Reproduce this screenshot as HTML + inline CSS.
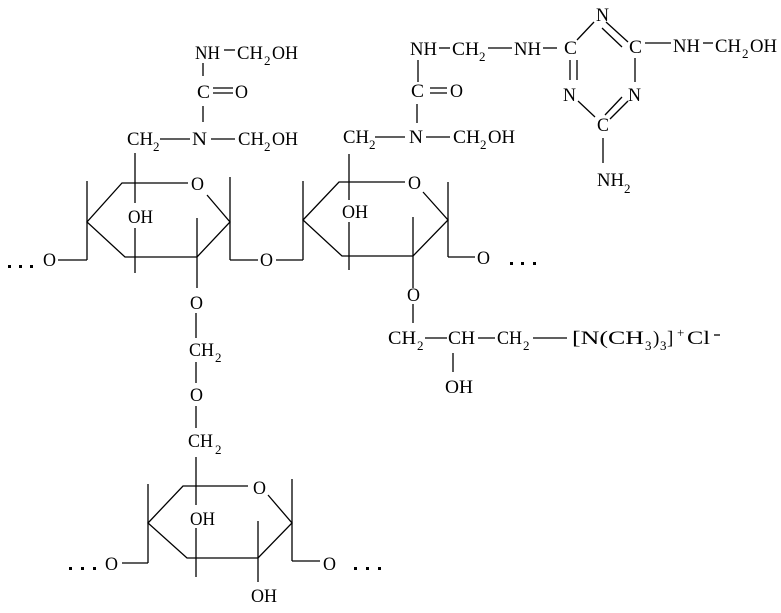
<!DOCTYPE html>
<html><head><meta charset="utf-8"><style>
html,body{margin:0;padding:0;background:#fff;width:781px;height:613px;overflow:hidden}
svg{display:block}
text{font-family:"Liberation Serif",serif;font-size:19px;fill:#000}
text.s{font-size:13px}
line,polyline{stroke:#000;stroke-width:1.3;fill:none}
rect{fill:#000}
</style></head><body>
<svg width="781" height="613" viewBox="0 0 781 613" xmlns="http://www.w3.org/2000/svg">
<!-- Urea 1 -->
<text x="195" y="59" textLength="25" lengthAdjust="spacingAndGlyphs">NH</text>
<line x1="224" y1="50" x2="235" y2="50"/>
<text x="237" y="59" textLength="26" lengthAdjust="spacingAndGlyphs">CH</text>
<text class="s" x="264" y="65">2</text>
<text x="272" y="59" textLength="26" lengthAdjust="spacingAndGlyphs">OH</text>
<line x1="203" y1="63" x2="203" y2="76"/>
<text x="197" y="98" textLength="13" lengthAdjust="spacingAndGlyphs">C</text>
<line x1="213" y1="88" x2="233" y2="88"/><line x1="213" y1="93" x2="233" y2="93"/>
<text x="235" y="98" textLength="13" lengthAdjust="spacingAndGlyphs">O</text>
<line x1="203" y1="106" x2="203" y2="122"/>
<text x="127" y="145" textLength="26" lengthAdjust="spacingAndGlyphs">CH</text>
<text class="s" x="153" y="151">2</text>
<line x1="160" y1="139" x2="190" y2="139"/>
<text x="192" y="145" textLength="15" lengthAdjust="spacingAndGlyphs">N</text>
<line x1="211" y1="139" x2="235" y2="139"/>
<text x="238" y="145" textLength="26" lengthAdjust="spacingAndGlyphs">CH</text>
<text class="s" x="264" y="151">2</text>
<text x="272" y="145" textLength="26" lengthAdjust="spacingAndGlyphs">OH</text>
<line x1="135" y1="153" x2="135" y2="203"/>
<text x="128" y="223" textLength="25" lengthAdjust="spacingAndGlyphs">OH</text>
<line x1="135" y1="228" x2="135" y2="273"/>
<!-- Ring 1 -->
<polyline points="188,183 122,183 87,222 125,257 197,257 230,222 207,195"/>
<text x="191" y="190" textLength="13" lengthAdjust="spacingAndGlyphs">O</text>
<line x1="87" y1="181" x2="87" y2="260"/><line x1="87" y1="260" x2="58" y2="260"/>
<text x="43" y="266" textLength="13" lengthAdjust="spacingAndGlyphs">O</text>
<rect x="8" y="265" width="3" height="3"/><rect x="19" y="265" width="3" height="3"/><rect x="30" y="265" width="3" height="3"/>
<line x1="197" y1="218" x2="197" y2="288"/>
<line x1="230" y1="177" x2="230" y2="260"/><line x1="230" y1="260" x2="258" y2="260"/>
<text x="260" y="266" textLength="13" lengthAdjust="spacingAndGlyphs">O</text>
<line x1="276" y1="260" x2="303" y2="260"/><line x1="303" y1="181" x2="303" y2="260"/>
<!-- Ring 2 -->
<polyline points="405,182 339,182 303,220 342,256 413,256 448,220 423,192"/>
<text x="408" y="189" textLength="13" lengthAdjust="spacingAndGlyphs">O</text>
<line x1="349" y1="154" x2="349" y2="200"/>
<text x="342" y="218" textLength="26" lengthAdjust="spacingAndGlyphs">OH</text>
<line x1="349" y1="222" x2="349" y2="270"/>
<line x1="413" y1="217" x2="413" y2="288"/>
<line x1="448" y1="182" x2="448" y2="257"/><line x1="448" y1="257" x2="475" y2="257"/>
<text x="477" y="264" textLength="13" lengthAdjust="spacingAndGlyphs">O</text>
<rect x="510" y="262" width="3" height="3"/><rect x="521" y="262" width="3" height="3"/><rect x="533" y="262" width="3" height="3"/>
<!-- Urea 2 -->
<text x="343" y="143" textLength="26" lengthAdjust="spacingAndGlyphs">CH</text>
<text class="s" x="369" y="149">2</text>
<line x1="375" y1="137" x2="405" y2="137"/>
<text x="409" y="143" textLength="14" lengthAdjust="spacingAndGlyphs">N</text>
<line x1="426" y1="137" x2="450" y2="137"/>
<text x="453" y="143" textLength="27" lengthAdjust="spacingAndGlyphs">CH</text>
<text class="s" x="480" y="149">2</text>
<text x="488" y="143" textLength="27" lengthAdjust="spacingAndGlyphs">OH</text>
<line x1="417" y1="104" x2="417" y2="123"/>
<text x="411" y="97" textLength="13" lengthAdjust="spacingAndGlyphs">C</text>
<line x1="430" y1="88" x2="447" y2="88"/><line x1="430" y1="93" x2="447" y2="93"/>
<text x="450" y="97" textLength="13" lengthAdjust="spacingAndGlyphs">O</text>
<line x1="418" y1="60" x2="418" y2="82"/>
<text x="410" y="55" textLength="27" lengthAdjust="spacingAndGlyphs">NH</text>
<line x1="439" y1="48" x2="450" y2="48"/>
<text x="452" y="55" textLength="27" lengthAdjust="spacingAndGlyphs">CH</text>
<text class="s" x="479" y="61">2</text>
<line x1="488" y1="48" x2="512" y2="48"/>
<text x="514" y="55" textLength="27" lengthAdjust="spacingAndGlyphs">NH</text>
<line x1="543" y1="48" x2="557" y2="48"/>
<!-- Triazine -->
<text x="564" y="54" textLength="13" lengthAdjust="spacingAndGlyphs">C</text>
<line x1="577" y1="40" x2="594" y2="22"/>
<text x="596" y="21" textLength="13" lengthAdjust="spacingAndGlyphs">N</text>
<line x1="606" y1="22" x2="628" y2="42"/><line x1="602" y1="28" x2="622" y2="47"/>
<text x="629" y="53" textLength="13" lengthAdjust="spacingAndGlyphs">C</text>
<line x1="645" y1="43" x2="671" y2="43"/>
<text x="673" y="52" textLength="27" lengthAdjust="spacingAndGlyphs">NH</text>
<line x1="703" y1="43" x2="713" y2="43"/>
<text x="715" y="52" textLength="26" lengthAdjust="spacingAndGlyphs">CH</text>
<text class="s" x="742" y="58">2</text>
<text x="750" y="52" textLength="27" lengthAdjust="spacingAndGlyphs">OH</text>
<line x1="570" y1="60" x2="570" y2="80"/><line x1="577" y1="60" x2="577" y2="80"/>
<line x1="635" y1="58" x2="635" y2="82"/>
<text x="563" y="101" textLength="13" lengthAdjust="spacingAndGlyphs">N</text>
<text x="628" y="101" textLength="13" lengthAdjust="spacingAndGlyphs">N</text>
<line x1="578" y1="101" x2="595" y2="117"/>
<line x1="622" y1="97" x2="605" y2="115"/><line x1="628" y1="101" x2="610" y2="119"/>
<text x="597" y="131" textLength="12" lengthAdjust="spacingAndGlyphs">C</text>
<line x1="603" y1="138" x2="603" y2="163"/>
<text x="597" y="186" textLength="27" lengthAdjust="spacingAndGlyphs">NH</text>
<text class="s" x="624" y="193">2</text>
<!-- Side chain -->
<text x="407" y="301" textLength="13" lengthAdjust="spacingAndGlyphs">O</text>
<line x1="413" y1="304" x2="413" y2="323"/>
<text x="388" y="344" textLength="28" lengthAdjust="spacingAndGlyphs">CH</text>
<text class="s" x="417" y="350">2</text>
<line x1="425" y1="338" x2="447" y2="338"/>
<text x="448" y="344" textLength="27" lengthAdjust="spacingAndGlyphs">CH</text>
<line x1="478" y1="338" x2="495" y2="338"/>
<text x="497" y="344" textLength="25" lengthAdjust="spacingAndGlyphs">CH</text>
<text class="s" x="523" y="350">2</text>
<line x1="533" y1="338" x2="567" y2="338"/>
<text x="572" y="344" textLength="72" lengthAdjust="spacingAndGlyphs">[N(CH</text>
<text class="s" x="645" y="350">3</text>
<text x="653" y="344">)</text>
<text class="s" x="660" y="350">3</text>
<text x="667" y="344">]</text>
<text class="s" x="677" y="337">+</text>
<text x="687" y="344" textLength="23" lengthAdjust="spacingAndGlyphs">Cl</text>
<line x1="714" y1="335" x2="720" y2="335"/>
<line x1="453" y1="353" x2="453" y2="372"/>
<text x="445" y="393" textLength="28" lengthAdjust="spacingAndGlyphs">OH</text>
<!-- Bridge -->
<text x="190" y="309" textLength="13" lengthAdjust="spacingAndGlyphs">O</text>
<line x1="196" y1="313" x2="196" y2="338"/>
<text x="189" y="356" textLength="25" lengthAdjust="spacingAndGlyphs">CH</text>
<text class="s" x="215" y="362">2</text>
<line x1="196" y1="362" x2="196" y2="383"/>
<text x="190" y="401" textLength="13" lengthAdjust="spacingAndGlyphs">O</text>
<line x1="196" y1="406" x2="196" y2="428"/>
<text x="188" y="447" textLength="25" lengthAdjust="spacingAndGlyphs">CH</text>
<text class="s" x="215" y="454">2</text>
<line x1="196" y1="457" x2="196" y2="505"/>
<text x="190" y="525" textLength="25" lengthAdjust="spacingAndGlyphs">OH</text>
<line x1="196" y1="528" x2="196" y2="577"/>
<!-- Ring 3 -->
<polyline points="248,486 183,486 148,523 187,558 258,558 292,523 268,495"/>
<text x="253" y="494" textLength="13" lengthAdjust="spacingAndGlyphs">O</text>
<line x1="148" y1="484" x2="148" y2="563"/><line x1="148" y1="563" x2="122" y2="563"/>
<text x="105" y="570" textLength="13" lengthAdjust="spacingAndGlyphs">O</text>
<rect x="69" y="567" width="3" height="3"/><rect x="81" y="567" width="3" height="3"/><rect x="93" y="567" width="3" height="3"/>
<line x1="292" y1="479" x2="292" y2="561"/><line x1="292" y1="561" x2="320" y2="561"/>
<text x="323" y="570" textLength="13" lengthAdjust="spacingAndGlyphs">O</text>
<rect x="354" y="567" width="3" height="3"/><rect x="366" y="567" width="3" height="3"/><rect x="378" y="567" width="3" height="3"/>
<line x1="258" y1="521" x2="258" y2="582"/>
<text x="251" y="602" textLength="26" lengthAdjust="spacingAndGlyphs">OH</text>
</svg>
</body></html>
